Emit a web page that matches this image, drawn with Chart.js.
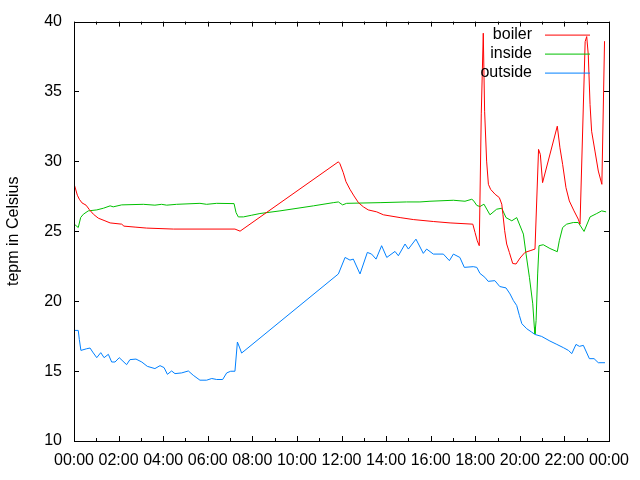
<!DOCTYPE html>
<html>
<head>
<meta charset="utf-8">
<script src="https://cdn.jsdelivr.net/npm/chart.js@4"></script>
<style>
html,body{margin:0;padding:0;background:#fff;}
canvas{display:block;}
</style>
</head>
<body>
<canvas id="c" width="640" height="480"></canvas>
<script>
// ---- data (hours since midnight, degrees Celsius) ----
const seriesNames = ['boiler', 'inside', 'outside'];
const seriesColors = ['#ff0000', '#00c000', '#0080ff'];
const xTickLabels = ['00:00','02:00','04:00','06:00','08:00','10:00','12:00','14:00','16:00','18:00','20:00','22:00','00:00'];
const yTickValues = [10, 15, 20, 25, 30, 35, 40];

const boilerHours = [0.02,0.15,0.24,0.36,0.54,0.69,0.87,1.09,1.39,1.62,2.14,2.24,2.74,3.26,4.46,7.22,7.45,11.86,11.93,12.08,12.2,12.38,12.56,12.76,12.98,13.2,13.58,13.88,14.63,15.22,16.12,16.87,17.89,17.99,18.09,18.18,18.27,18.36,18.42,18.51,18.59,18.69,18.89,19.08,19.19,19.24,19.32,19.41,19.53,19.68,19.83,20.01,20.23,20.46,20.68,20.84,20.92,21.02,21.68,21.8,21.92,22.07,22.22,22.43,22.62,22.7,22.93,23.0,23.07,23.15,23.22,23.37,23.52,23.68,23.8];
const boilerTemps = [28.3,27.58,27.29,27.03,26.87,26.55,26.22,25.94,25.75,25.6,25.51,25.37,25.3,25.23,25.16,25.16,25.01,29.97,29.83,29.19,28.55,28.0,27.53,27.05,26.75,26.53,26.39,26.18,25.98,25.84,25.7,25.6,25.51,24.92,24.32,23.97,33.4,39.17,33.59,30.02,28.36,28.0,27.65,27.41,26.94,26.22,25.04,24.09,23.49,22.7,22.66,23.09,23.49,23.61,23.73,30.86,30.5,28.48,32.52,30.97,29.79,28.12,27.17,26.46,25.87,25.51,38.57,38.93,37.63,34.06,32.16,30.74,29.31,28.36,38.6];

const insideHours = [0.02,0.19,0.3,0.42,0.64,1.02,1.32,1.62,1.76,2.14,3.11,3.63,3.93,4.16,4.6,5.65,5.95,6.4,7.18,7.27,7.37,7.6,7.97,8.34,9.24,10.74,11.63,11.86,12.05,12.23,13.73,14.92,15.52,15.97,17.02,17.54,17.84,17.91,18.07,18.21,18.39,18.66,18.96,19.19,19.38,19.64,19.86,20.16,20.28,20.43,20.58,20.65,20.68,20.73,20.8,20.86,21.05,21.35,21.68,21.77,21.92,22.1,22.4,22.62,22.88,23.15,23.45,23.67,23.87];
const insideTemps = [25.5,25.27,25.99,26.22,26.46,26.53,26.65,26.82,26.75,26.89,26.93,26.87,26.93,26.87,26.93,27.0,26.93,27.0,26.98,26.34,26.03,26.03,26.15,26.27,26.46,26.82,27.05,27.1,26.89,27.0,27.05,27.1,27.1,27.15,27.22,27.15,27.29,27.22,26.85,26.77,26.94,26.18,26.58,26.65,25.98,25.75,25.98,24.8,23.37,21.71,19.81,18.15,17.67,18.62,21.95,23.97,24.04,23.77,23.54,24.32,25.27,25.51,25.63,25.63,24.99,26.03,26.27,26.46,26.39];

const outsideHours = [0.02,0.19,0.24,0.31,0.57,0.72,0.84,1.02,1.2,1.35,1.54,1.69,1.84,2.03,2.36,2.51,2.78,3.04,3.29,3.63,3.86,4.04,4.19,4.38,4.53,4.83,5.13,5.35,5.65,5.95,6.18,6.4,6.67,6.85,7.03,7.22,7.33,7.42,7.52,11.86,12.16,12.38,12.53,12.83,13.16,13.35,13.55,13.8,14.03,14.4,14.55,14.85,15.0,15.34,15.67,15.82,16.12,16.57,16.84,17.02,17.31,17.51,17.91,18.07,18.21,18.43,18.58,18.88,19.1,19.38,19.56,19.71,19.86,19.98,20.09,20.31,20.53,20.68,20.98,21.35,21.66,21.95,22.18,22.33,22.52,22.67,22.85,23.12,23.33,23.52,23.82];
const outsideTemps = [17.91,17.91,17.25,16.48,16.6,16.65,16.36,15.96,16.32,15.96,16.2,15.65,15.65,15.96,15.46,15.82,15.86,15.65,15.34,15.18,15.39,15.25,14.77,15.01,14.82,14.87,15.01,14.7,14.35,14.35,14.47,14.4,14.4,14.87,14.99,14.99,17.08,16.72,16.29,21.95,23.13,22.94,23.01,21.95,23.49,23.37,23.01,23.97,23.13,23.56,23.25,24.09,23.73,24.44,23.42,23.73,23.37,23.37,22.9,23.37,23.13,22.42,22.47,22.42,21.99,21.71,21.42,21.47,21.05,20.95,20.52,20.05,19.69,18.98,18.39,18.03,17.79,17.62,17.48,17.15,16.91,16.68,16.48,16.25,16.91,16.77,16.84,15.89,15.89,15.6,15.6];

const yTitle = 'tepm in Celsius';

function toPoints(hs, vs) { return hs.map((h, i) => ({x: h, y: vs[i]})); }
const allHours = [boilerHours, insideHours, outsideHours];
const allTemps = [boilerTemps, insideTemps, outsideTemps];

const FONT = 'Liberation Sans, Arial, sans-serif';

// gnuplot-like frame, inward ticks and legend
const framePlugin = {
  id: 'frame',
  afterDraw(chart) {
    const ctx = chart.ctx, a = chart.chartArea;
    const xs = chart.scales.x, ys = chart.scales.y;
    ctx.save();
    ctx.strokeStyle = '#000';
    ctx.lineWidth = 1;
    ctx.beginPath();
    // x ticks: major every 2h, minor every 1h, bottom and top
    for (let h = 0; h <= 24; h++) {
      const px = Math.round(xs.getPixelForValue(h)) + 0.5;
      const len = (h % 2 === 0) ? 5 : 3;
      ctx.moveTo(px, a.bottom); ctx.lineTo(px, a.bottom - len);
      ctx.moveTo(px, a.top); ctx.lineTo(px, a.top + len);
    }
    // y ticks, left and right
    yTickValues.forEach(v => {
      const py = Math.round(ys.getPixelForValue(v)) + 0.5;
      ctx.moveTo(a.left, py); ctx.lineTo(a.left + 5, py);
      ctx.moveTo(a.right, py); ctx.lineTo(a.right - 5, py);
    });
    ctx.stroke();
    ctx.strokeRect(Math.round(a.left) + 0.5, Math.round(a.top) + 0.5, Math.round(a.right - a.left), Math.round(a.bottom - a.top));
    // legend
    ctx.font = '16px ' + FONT;
    ctx.textAlign = 'right';
    ctx.textBaseline = 'middle';
    chart.data.datasets.forEach((ds, i) => {
      const y = a.top + 13 + 19 * i;
      ctx.fillStyle = '#000';
      ctx.fillText(ds.label, a.right - 77, y);
      ctx.strokeStyle = ds.borderColor;
      ctx.beginPath();
      ctx.moveTo(a.right - 64, y + 0.5); ctx.lineTo(a.right - 19, y + 0.5);
      ctx.stroke();
    });
    ctx.restore();
  }
};

new Chart(document.getElementById('c'), {
  type: 'line',
  data: {
    datasets: seriesNames.map((name, i) => ({
      label: name,
      data: toPoints(allHours[i], allTemps[i]),
      borderColor: seriesColors[i],
      backgroundColor: seriesColors[i],
      borderWidth: 1,
      pointRadius: 0,
      tension: 0,
      fill: false
    }))
  },
  options: {
    responsive: false,
    animation: false,
    devicePixelRatio: 1,
    layout: { padding: { top: 20, right: 31, left: 0, bottom: 0 } },
    plugins: { legend: { display: false }, tooltip: { enabled: false } },
    scales: {
      x: {
        type: 'linear',
        min: 0, max: 24,
        grid: { display: false, drawTicks: false },
        border: { display: false },
        ticks: {
          stepSize: 2,
          color: '#000',
          font: { family: FONT, size: 16 },
          padding: 10,
          maxRotation: 0,
          autoSkip: false,
          callback: (v) => xTickLabels[Math.round(v / 2)]
        },
        afterFit(s) { s.height = 39; }
      },
      y: {
        min: 10, max: 40,
        grid: { display: false, drawTicks: false },
        border: { display: false },
        ticks: {
          stepSize: 5,
          color: '#000',
          font: { family: FONT, size: 16 },
          padding: 12
        },
        title: {
          display: true,
          text: yTitle,
          color: '#000',
          font: { family: FONT, size: 16 },
          padding: { top: 4, bottom: 0 }
        },
        afterFit(s) { s.width = 74; }
      }
    }
  },
  plugins: [framePlugin]
});
</script>
</body>
</html>
